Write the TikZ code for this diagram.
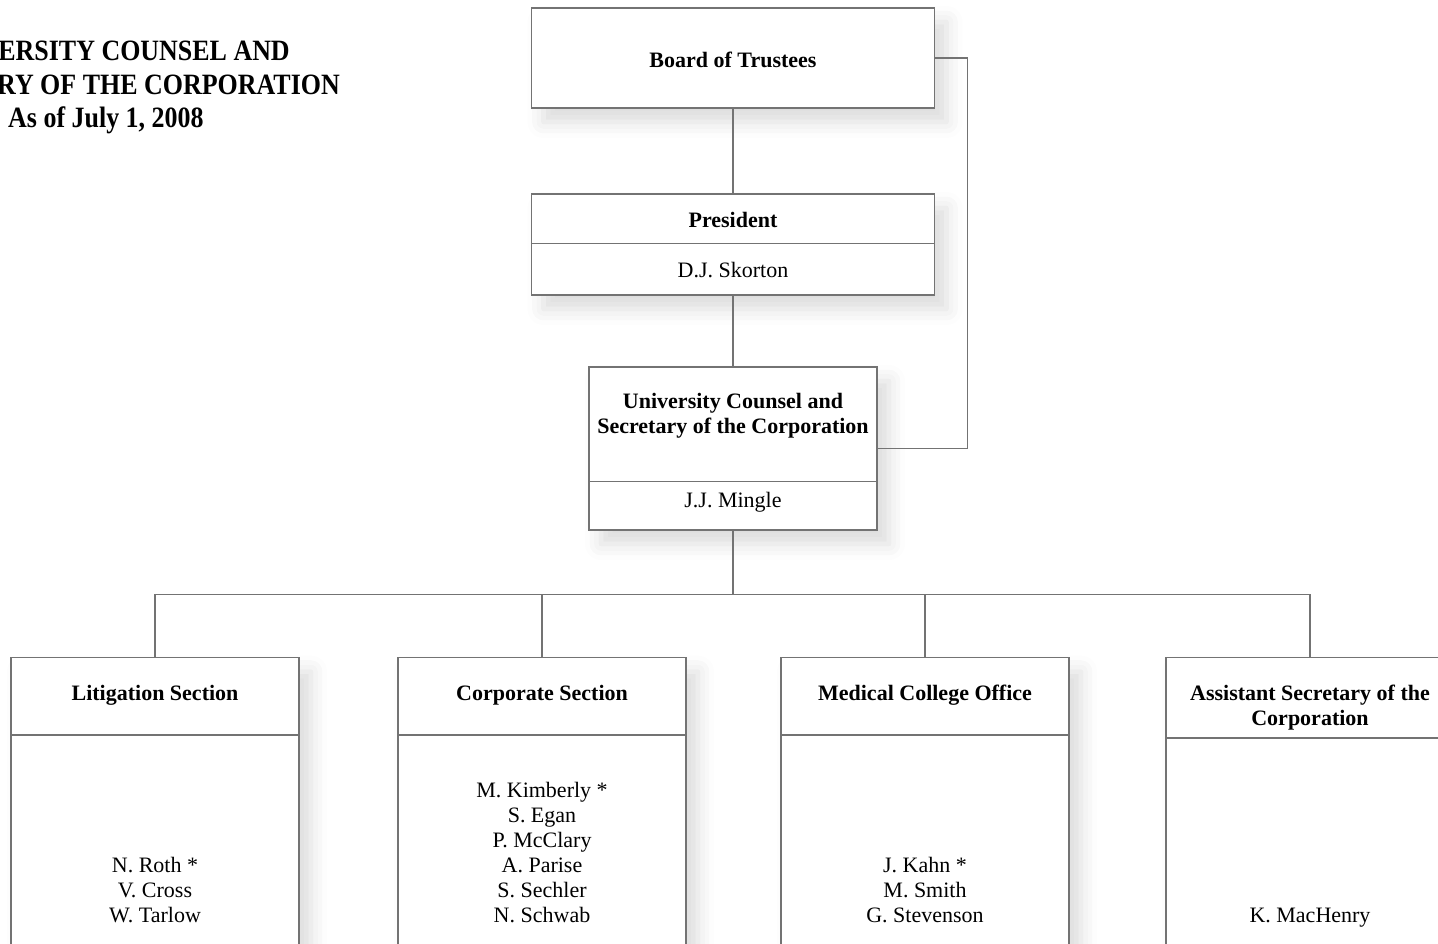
\documentclass[tikz,border=0pt]{standalone}
\usepackage{graphicx}
\usepackage{fontspec}
\setmainfont{Liberation Serif}
\usetikzlibrary{shadows.blur}
\tikzset{
	box/.style = {draw = black!55, line width = 1.2pt, fill = white, inner sep = 0pt,
		blur shadow = {shadow xshift = 12pt, shadow yshift = -14pt, shadow blur radius = 16pt, shadow opacity = 14}},
	link/.style = {draw = black!55, line width = 1.2pt},
	head/.style = {inner sep = 0pt, anchor = base, align = center, font = \bfseries\fontsize{22}{25}\selectfont},
	who/.style = {inner sep = 0pt, anchor = base, align = center, font = \fontsize{22}{25}\selectfont},
	banner/.style = {inner sep = 0pt, anchor = base east, font = \bfseries\fontsize{29.5}{34}\selectfont}
}
\newcommand{\narrow}[1]{\scalebox{0.88}[1]{#1}}

\begin{document}
\begin{tikzpicture}[x = 1pt, y = -1pt]
	\useasboundingbox (0, 0) rectangle (1438, 944);
	\clip (0, 0) rectangle (1438, 944);

	% heading, cut off at the left edge
	\node [banner] (t1) at (290, 61) {\narrow{UNIVERSITY COUNSEL AND}};
	\node [banner] (t2) at (340, 95) {\narrow{SECRETARY OF THE CORPORATION}};
	\node [banner, anchor = base west] (t3) at (8, 128) {\narrow{As of July 1, 2008}};

	% top of the tree
	\node [box, minimum width = 403pt, minimum height = 100pt] (board) at (733, 58) {};
	\node [head] (boardT) at (733, 68) {Board of Trustees};

	\node [box, minimum width = 403pt, minimum height = 101pt] (pres) at (733, 244.5) {};
	\draw [link] ([yshift = -50pt]pres.north west) -- ([yshift = -50pt]pres.north east);
	\node [head] (presT) at (733, 228) {President};
	\node [who] (presN) at (733, 277) {D.J. Skorton};

	\node [box, minimum width = 288pt, minimum height = 163pt] (counsel) at (733, 448.5) {};
	\draw [link] ([yshift = -115pt]counsel.north west) -- ([yshift = -115pt]counsel.north east);
	\node [head] (counselT) at (733, 433) {University Counsel and\\Secretary of the Corporation};
	\node [who] (counselN) at (733, 507) {J.J. Mingle};

	\draw [link] (board) -- (pres);
	\draw [link] (pres) -- (counsel);
	\draw [link] (board.east) -- ++(32, 0) |- (counsel.east);

	% sections
	\path (counsel.south) ++(0, 64) coordinate (bus);
	\draw [link] (counsel) -- (bus);
	\foreach \name/\x/\cut in {lit/155/78, corp/542/78, med/925/78, asst/1310/81}{
		\node [box, minimum width = 288pt, minimum height = 320pt, anchor = north] (\name) at (\x, 657) {};
		\draw [link] ([yshift = -\cut pt]\name.north west) -- ([yshift = -\cut pt]\name.north east);
		\draw [link] (bus) -| (\name.north);
	}

	\node [head] (litT) at (155, 700) {Litigation Section};
	\node [head] (corpT) at (542, 700) {Corporate Section};
	\node [head] (medT) at (925, 700) {Medical College Office};
	\node [head] (asstT) at (1310, 725) {Assistant Secretary of the\\Corporation};

	% names sit on the same bottom line
	\node [who] (litN) at (155, 922) {N. Roth *\\V. Cross\\W. Tarlow};
	\node [who] (corpN) at (542, 922) {M. Kimberly *\\S. Egan\\P. McClary\\A. Parise\\S. Sechler\\N. Schwab};
	\node [who] (medN) at (925, 922) {J. Kahn *\\M. Smith\\G. Stevenson};
	\node [who] (asstN) at (1310, 922) {K. MacHenry};
\end{tikzpicture}
\end{document}
